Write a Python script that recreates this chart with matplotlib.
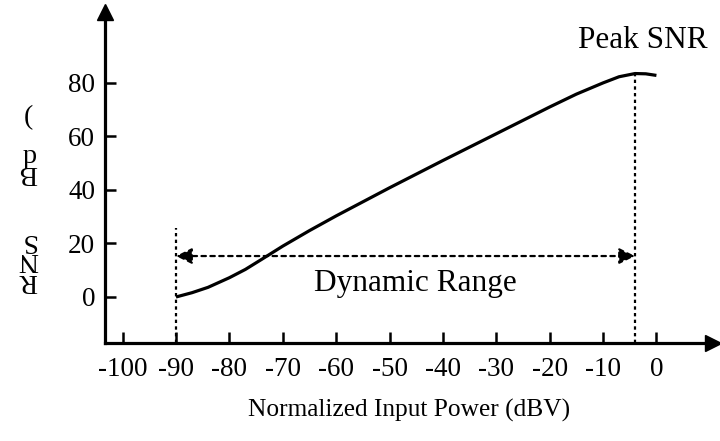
import matplotlib
matplotlib.use("Agg")
import matplotlib.pyplot as plt

# SNR versus input power
power_dbv = [-90, -87, -84, -80, -77, -74, -70, -65, -60, -50, -40, -30, -20, -15, -10, -7, -4, -2, 0]
snr_db = [0, 1.6, 3.6, 7.2, 10.3, 14.0, 19.0, 24.8, 30.3, 40.8, 51, 61, 71, 75.8, 80, 82.3, 83.5, 83.4, 82.8]

x_ticks = [-100, -90, -80, -70, -60, -50, -40, -30, -20, -10, 0]
y_ticks = [0, 20, 40, 60, 80]

range_start = -90
peak_x = -4
peak_y = 83.5
range_arrow_y = 15.3
range_mark_top = 25.8

plt.rcParams["font.family"] = ["Liberation Serif", "DejaVu Serif"]

W, H = 720, 441
fig = plt.figure(figsize=(W / 100, H / 100), dpi=100)
ax = fig.add_axes([105 / W, 98 / H, (713 - 105) / W, (343 - 12) / H])
ax.set_xlim(-103.3, 10.6)
ax.set_ylim(-17.2, 106.5)

for s in ["top", "right"]:
    ax.spines[s].set_visible(False)
for s in ["left", "bottom"]:
    ax.spines[s].set_linewidth(2.3)

# arrow heads on the axes
ax.plot(1, 0, ">", color="black", markersize=11, transform=ax.transAxes, clip_on=False)
ax.plot(0, 1, "^", color="black", markersize=11, transform=ax.transAxes, clip_on=False)

ax.set_xticks(x_ticks)
ax.set_xticklabels([str(v) for v in x_ticks])
ax.set_yticks(y_ticks)
ax.tick_params(direction="in", length=8, width=1.8, labelsize=19.5)
ax.tick_params(axis="x", pad=10)
ax.tick_params(axis="y", pad=7)

ax.set_xlabel("Normalized Input Power (dBV)", fontsize=18.3, labelpad=12)

# curve
ax.plot(power_dbv, snr_db, color="black", lw=2.3, solid_capstyle="butt")

# dotted markers
ax.plot([range_start, range_start], [ax.get_ylim()[0], range_mark_top], color="black", lw=1.6, ls=(0, (1.5, 1.5)))
ax.plot([peak_x, peak_x], [ax.get_ylim()[0], peak_y], color="black", lw=1.6, ls=(0, (1.5, 1.5)))
ax.annotate("", xy=(range_start, range_arrow_y), xytext=(peak_x, range_arrow_y),
            arrowprops=dict(arrowstyle="<|-|>", color="black", lw=1.6, ls=(0, (2, 2)),
                            mutation_scale=24, shrinkA=0, shrinkB=0))

ax.text(-45.2, 5.2, "Dynamic Range", fontsize=22.5, ha="center", va="center")
ax.text(-2.6, 96, "Peak SNR", fontsize=22.5, ha="center", va="center", clip_on=False)

# garbled y label as in the reference (glyphs stacked and flipped)
ylabel_chars = ["(", "d", "B", "S", "N", "R"]
ylabel_ypix = [118, 154, 172, 240, 260, 281]
for ch, yp in zip(ylabel_chars, ylabel_ypix):
    fig.text(28 / W, 1 - yp / H, ch, fontsize=20, rotation=180 if ch != "(" else 0,
             ha="center", va="center")

fig.savefig("out.png", dpi=100)
